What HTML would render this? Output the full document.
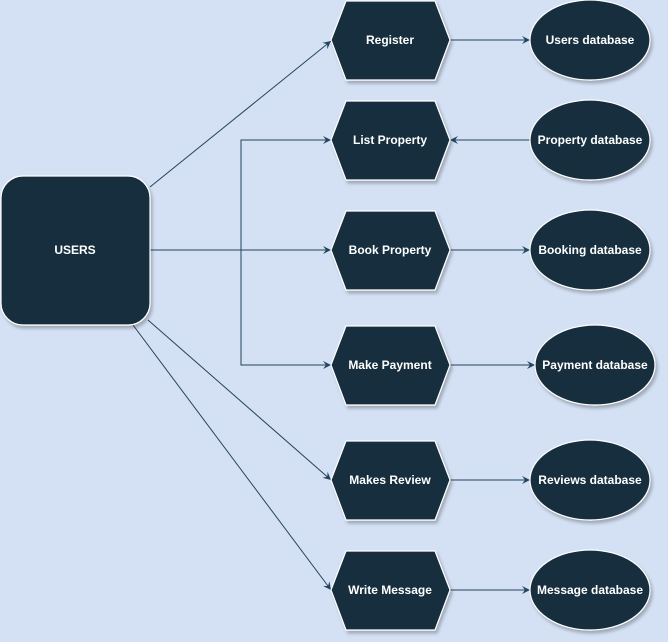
<!DOCTYPE html>
<html><head><style>
html,body{margin:0;padding:0;background:#d4e1f5;}
svg{display:block}
text{font-family:"Liberation Sans",Arial,sans-serif;font-size:12px;font-weight:bold;fill:#fff;text-anchor:middle;dominant-baseline:central}
</style></head><body>
<svg width="668" height="642" viewBox="0 0 668 642">
<defs>
<marker id="a" markerWidth="10" markerHeight="10" refX="8" refY="5" orient="auto" markerUnits="userSpaceOnUse">
<path d="M0,1 L8,5 L0,9 L3,5 Z" fill="#23445d"/></marker>
<filter id="s" x="-20%" y="-20%" width="140%" height="140%"><feDropShadow dx="2" dy="3" stdDeviation="1.5" flood-color="#000" flood-opacity="0.25"/></filter>
</defs>
<g stroke="#23445d" stroke-width="1" fill="none" marker-end="url(#a)">
<path d="M150,187 L331,41"/>
<path d="M150,250 L331,250"/>
<path d="M241,250 L241,140 L331,140"/>
<path d="M241,250 L241,365 L331,365"/>
<path d="M148,320 L331,480"/>
<path d="M133,325 L331,590"/>
<path d="M450,40 L530,40"/>
<path d="M530,140 L450,140"/>
<path d="M450,250 L530,250"/>
<path d="M450,365 L535,365"/>
<path d="M450,480 L530,480"/>
<path d="M450,590 L530,590"/>
</g>
<g fill="#182e3e" stroke="#fff" stroke-width="1.2" filter="url(#s)">
<rect x="1" y="176" width="149" height="149" rx="22"/>
<polygon points="331,40 346,1 435,1 450,40 435,80 346,80"/>
<polygon points="331,140 346,101 435,101 450,140 435,180 346,180"/>
<polygon points="331,250 346,211 435,211 450,250 435,290 346,290"/>
<polygon points="331,365 346,326 435,326 450,365 435,405 346,405"/>
<polygon points="331,480 346,441 435,441 450,480 435,520 346,520"/>
<polygon points="331,590 346,551 435,551 450,590 435,630 346,630"/>
<ellipse cx="590" cy="40" rx="60" ry="40"/>
<ellipse cx="590" cy="140" rx="60" ry="40"/>
<ellipse cx="590" cy="250" rx="60" ry="40"/>
<ellipse cx="595" cy="365" rx="60" ry="40"/>
<ellipse cx="590" cy="480" rx="60" ry="40"/>
<ellipse cx="590" cy="590" rx="60" ry="40"/>
</g>
<text x="75" y="250">USERS</text>
<text x="390" y="40">Register</text>
<text x="390" y="140">List Property</text>
<text x="390" y="250">Book Property</text>
<text x="390" y="365">Make Payment</text>
<text x="390" y="480">Makes Review</text>
<text x="390" y="590">Write Message</text>
<text x="590" y="40">Users database</text>
<text x="590" y="140">Property database</text>
<text x="590" y="250">Booking database</text>
<text x="595" y="365">Payment database</text>
<text x="590" y="480">Reviews database</text>
<text x="590" y="590">Message database</text>
</svg>
</body></html>
